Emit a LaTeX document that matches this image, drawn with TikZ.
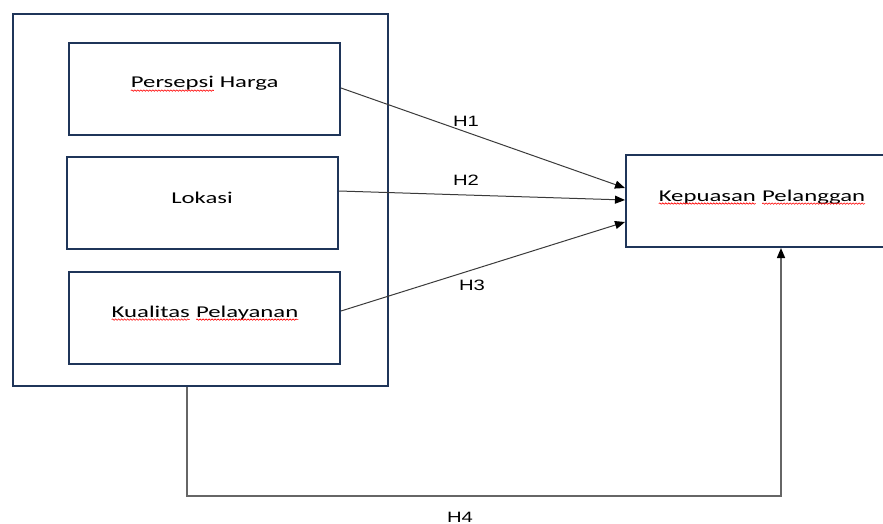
\documentclass[tikz,border=0pt]{standalone}
\usepackage{fontspec}
\usetikzlibrary{arrows.meta,decorations.pathmorphing}
\newfontfamily\boxfont[FakeStretch=1.5]{Carlito}
\newfontfamily\hfont[FakeStretch=1.35]{Liberation Sans}
\definecolor{navy}{HTML}{1F3559}
\definecolor{conn}{HTML}{3A3A3A}
\newcommand\sq[1]{\tikz[baseline=0pt]{\node[anchor=base,inner sep=0pt,outer sep=0pt](sqw){#1};
  \draw[red,line width=0.6pt,decorate,decoration={snake,amplitude=0.7pt,segment length=3pt}]
  ([yshift=-2.6pt]sqw.base west) -- ([yshift=-2.6pt]sqw.base east);}}
\tikzset{
  box/.style={draw=navy,line width=2pt,minimum width=271pt,minimum height=92pt,inner sep=0pt},
  outerbox/.style={draw=navy,line width=2pt,minimum width=375pt,minimum height=372pt,inner sep=0pt},
  btext/.style={anchor=base,inner sep=0pt,font=\boxfont\fontsize{16.5}{19}\selectfont},
  hlab/.style={anchor=base,inner sep=0pt,font=\hfont\fontsize{15}{18}\selectfont},
  conn/.style={draw=conn,line width=1pt,-{Triangle[length=10pt,width=8pt,color=black]}},
}
\begin{document}
\begin{tikzpicture}[x=1pt,y=-1pt]
\useasboundingbox (0,0) rectangle (883,524);
\node[outerbox] (outer) at (200.5,200) {};
\node[box] (ph) at (204.5,89) {};
\node[box] (lk) at (202.5,203) {};
\node[box] (kl) at (204.5,318) {};
\node[box,minimum width=270pt] (kp) at (761,201) {};
\node[btext] (phT) at (204.5,88) {\sq{Persepsi} Harga};
\node[btext] (lkT) at (202,203) {Lokasi};
\node[btext] (klT) at (205,317) {\sq{Kualitas} \sq{Pelayanan}};
\node[btext] (kpT) at (762,201) {\sq{Kepuasan} \sq{Pelanggan}};
\draw[conn] ([yshift=1pt]ph.east) -- ([yshift=13pt]kp.west);
\draw[conn] ([yshift=12pt]lk.east) -- ([yshift=1pt]kp.west);
\draw[conn] ([yshift=7pt]kl.east) -- ([yshift=-21pt]kp.west);
\draw[conn,draw=gray!80!black,line width=1.5pt] ([xshift=-13.5pt]outer.south) -- ++(0,109) -| ([xshift=20pt]kp.south);
\node[hlab] (h1) at (466,127) {H1};
\node[hlab] (h2) at (466,185) {H2};
\node[hlab] (h3) at (472,290) {H3};
\node[hlab] (h4) at (460,522) {H4};
\end{tikzpicture}
\end{document}
